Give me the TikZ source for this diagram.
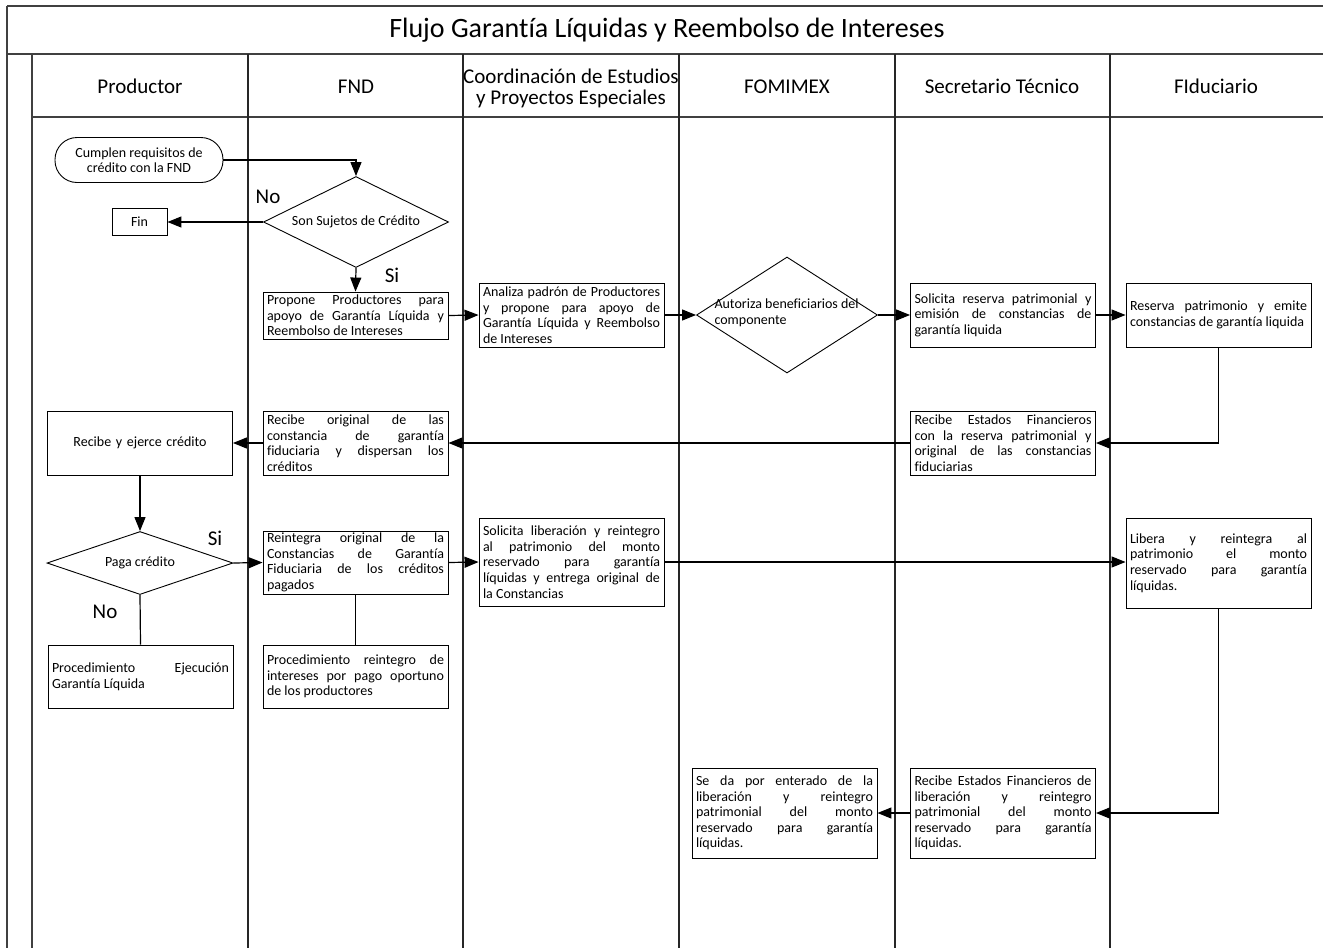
\documentclass[tikz,border=0pt]{standalone}
\usepackage{fontspec}
\setmainfont{Carlito}[Ligatures=NoCommon]
\usetikzlibrary{shapes.geometric,arrows.meta}
\newcommand{\bodyfs}{\fontsize{14}{15.6}\selectfont}
\newcommand{\headfs}{\fontsize{21}{21.5}\selectfont}
\begin{document}
\begin{tikzpicture}[x=1pt,y=-1pt,
  lane/.style={line width=1.6pt, draw=black!85},
  frame/.style={line width=1.4pt, draw=black!75},
  pbox/.style={draw, line width=0.9pt, rectangle, align=justify, text width=177pt, inner xsep=4pt, inner ysep=1pt, font=\bodyfs},
  dia/.style={draw, line width=0.9pt, diamond, aspect=2, inner sep=0pt, font=\bodyfs},
  arr/.style={line width=1.2pt, -{Triangle[length=14pt,width=11pt]}},
  link/.style={line width=1.2pt},
  lbl/.style={font=\headfs},
  head/.style={font=\headfs, align=center},
  head1/.style={font=\headfs, text height=15pt, text depth=4.5pt}]
\useasboundingbox (0,0) rectangle (1323,948);
% frame
\draw[frame] (7,6) -- (1323,6);
\draw[frame] (7,6) -- (7,948);
\draw[frame] (7,54) -- (1323,54);
\draw[frame] (32,54) -- (32,948);
\draw[frame] (32,117) -- (1323,117);
\foreach \x in {248,463,679,895,1110} \draw[lane] (\x,54) -- (\x,948);
% title and headers
\node[font=\fontsize{28}{30}\selectfont] (title) at (667,30) {Flujo Garantía Líquidas y Reembolso de Intereses};
\node[head1] (hProd) at (140,88.5) {Productor};
\node[head1] (hFND) at (356,88.5) {FND};
\node[head] (hCoord) at (571,88.5) {Coordinación de Estudios\\y Proyectos Especiales};
\node[head1] (hFom) at (787,88.5) {FOMIMEX};
\node[head1] (hSec) at (1002,88.5) {Secretario Técnico};
\node[head1] (hFid) at (1216,88.5) {FIduciario};
% nodes
\node[draw, line width=0.9pt, rounded corners=22pt, minimum width=168pt, minimum height=45pt, align=center, font=\bodyfs] (cump) at (139,160) {Cumplen requisitos de\\crédito con la FND};
\node[dia, minimum width=185pt, minimum height=91pt] (son) at (356,222) {Son Sujetos de Crédito};
\node[draw, line width=0.9pt, minimum width=55pt, minimum height=27pt, font=\bodyfs] (fin) at (139.5,222) {Fin};
\node[pbox, minimum height=47pt] (prop) at (355.5,315.5) {Propone Productores para\linebreak apoyo de Garantía Líquida y\linebreak Reembolso de Intereses};
\node[pbox, minimum height=64pt] (anal) at (571.5,315) {Analiza padrón de Productores\linebreak y propone para apoyo de\linebreak Garantía Líquida y Reembolso\linebreak de Intereses};
\node[dia, minimum width=181pt, minimum height=116pt] (aut) at (787,315) {};
\node[font=\bodyfs, align=left, anchor=west] (autT) at (711,313) {Autoriza beneficiarios del\\componente};
\node[pbox, minimum height=64pt] (sol) at (1003,315) {Solicita reserva patrimonial y\linebreak emisión de constancias de\linebreak garantía liquida};
\node[pbox, minimum height=64pt] (res) at (1218.5,315) {Reserva patrimonio y emite\linebreak constancias de garantía liquida};
\node[pbox, minimum height=64pt] (recEF) at (1003,443) {Recibe Estados Financieros\linebreak con la reserva patrimonial y\linebreak original de las constancias\linebreak fiduciarias};
\node[pbox, minimum height=64pt] (recOrig) at (355.5,443) {Recibe original de las\linebreak constancia de garantía\linebreak fiduciaria y dispersan los\linebreak créditos};
\node[pbox, minimum height=64pt, align=center] (recEj) at (140,443) {Recibe y ejerce crédito};
\node[dia, minimum width=186pt, minimum height=63pt] (paga) at (140,563) {Paga crédito};
\node[pbox, minimum height=63pt] (reint) at (355.5,562.5) {Reintegra original de la\linebreak Constancias de Garantía\linebreak Fiduciaria de los créditos\linebreak pagados};
\node[pbox, minimum height=88pt] (solLib) at (571.5,562) {Solicita liberación y reintegro\linebreak al patrimonio del monto\linebreak reservado para garantía\linebreak líquidas y entrega original de\linebreak la Constancias};
\node[pbox, minimum height=90pt] (lib) at (1218.5,563) {Libera y reintegra al\linebreak patrimonio el monto\linebreak reservado para garantía\linebreak líquidas.};
\node[pbox, minimum height=63pt] (procEj) at (140.5,676.5) {Procedimiento Ejecución\linebreak Garantía Líquida};
\node[pbox, minimum height=63pt] (procRe) at (355.5,676.5) {Procedimiento reintegro de\linebreak intereses por pago oportuno\linebreak de los productores};
\node[pbox, minimum height=90pt] (recEFL) at (1003,813) {Recibe Estados Financieros de\linebreak liberación y reintegro\linebreak patrimonial del monto\linebreak reservado para garantía\linebreak líquidas.};
\node[pbox, minimum height=90pt] (enter) at (784.5,813) {Se da por enterado de la\linebreak liberación y reintegro\linebreak patrimonial del monto\linebreak reservado para garantía\linebreak líquidas.};
% labels
\node[lbl] (no1) at (268,197) {No};
\node[lbl] (si1) at (392,275) {Si};
\node[lbl] (si2) at (215,538) {Si};
\node[lbl] (no2) at (105,612) {No};
% connectors
\draw[arr] (cump.east) -| (son.north);
\draw[arr] (son.west) -- (fin.east);
\draw[arr] (son.south) -- (prop.north);
\draw[arr] (prop.east) -- (anal.west);
\draw[arr] (anal.east) -- (aut.west);
\draw[arr] (aut.east) -- (sol.west);
\draw[arr] (sol.east) -- (res.west);
\draw[arr] (res.south) |- (recEF.east);
\draw[arr] (recEF.west) -- (recOrig.east);
\draw[arr] (recOrig.west) -- (recEj.east);
\draw[arr] (recEj.south) -- (paga.north);
\draw[arr] (paga.east) -- (reint.west);
\draw[arr] (reint.east) -- (solLib.west);
\draw[arr] (solLib.east) -- (solLib.east -| lib.west);
\draw[arr] (lib.south) |- (recEFL.east);
\draw[arr] (recEFL.west) -- (enter.east);
\draw[link] (paga.south) -- (procEj.north);
\draw[link] (reint.south) -- (procRe.north);
\end{tikzpicture}
\end{document}
